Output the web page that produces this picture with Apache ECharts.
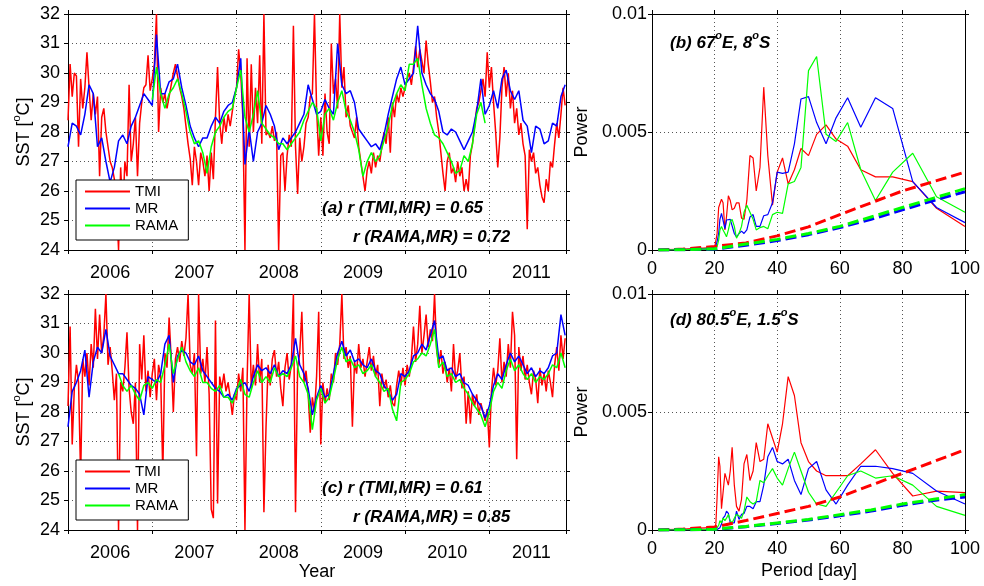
<!DOCTYPE html>
<html>
<head>
<meta charset="utf-8">
<script src="https://cdn.jsdelivr.net/npm/echarts@6/dist/echarts.min.js"></script>
<style>
  html, body { margin: 0; padding: 0; background: #fff; }
  #container { width: 984px; height: 586px; }
</style>
</head>
<body>
<div id="container"></div>
<script>
// SST series (°C), one row per year
var tmiA = [
  28.4, 30.3, 29.2, 30.0, 29.9, 27.5, 29.8, 28.8, 29.5, 30.7, 29.5, 28.4, 29.3, 28.6, 29.2, 26.5, 28.5, 28.8, 28.0, 27.5, 27.0, 26.8, 26.4, 25.6, 24.0, 26.8, 25.2, 27.0, 26.5, 29.6, 27.0, 27.6, 28.5, 26.5, 28.3, 29.0, 29.5, 29.6, 30.6, 29.4,
  29.8, 30.3, 32.0, 28.0, 29.5, 29.0, 29.3, 28.8, 29.2, 29.6, 30.0, 30.3, 29.9, 29.5, 29.2, 28.8, 28.2, 27.6, 27.1, 26.2, 27.5, 27.0, 26.2, 27.3, 27.0, 26.5, 27.2, 26.0, 27.3, 26.4, 28.5, 30.2, 28.3, 27.6, 28.5, 28.0, 28.6, 28.2, 28.7, 29.2,
  29.5, 30.8, 30.0, 28.5, 24.0, 30.5, 27.5, 30.3, 28.0, 29.5, 28.3, 30.6, 27.6, 32.0, 27.9, 28.0, 27.8, 28.2, 27.7, 28.0, 24.0, 27.2, 27.3, 26.0, 27.2, 27.9, 27.5, 31.6, 27.5, 25.9, 27.8, 27.0, 27.5, 28.3, 28.5, 29.2, 29.3, 32.0, 28.8, 27.2,
  28.5, 27.2, 29.3, 28.0, 27.6, 31.0, 29.3, 29.8, 28.8, 32.0, 29.5, 30.2, 28.5, 28.9, 28.2, 28.0, 27.8, 28.5, 27.5, 27.0, 26.5, 26.0, 26.7, 27.0, 26.6, 27.3, 26.8, 27.2, 27.0, 27.5, 28.0, 27.6, 28.5, 27.3, 29.0, 28.5, 29.3, 29.0, 29.5, 29.2,
  29.5, 29.8, 30.0, 29.6, 30.2, 30.9, 30.2, 30.8, 30.4, 30.0, 31.1, 30.3, 29.7, 29.0, 29.2, 28.5, 28.0, 27.3, 26.6, 26.0, 27.0, 27.3, 26.6, 26.8, 26.3, 27.0, 26.5, 26.8, 26.0, 26.4, 26.0, 27.2, 27.6, 28.2, 28.8, 29.0, 29.4, 29.8, 29.2, 30.7,
  29.5, 30.2, 29.0, 28.0, 26.8, 27.8, 29.5, 30.2, 29.2, 30.0, 28.8, 29.4, 28.3, 28.8, 27.9, 28.3, 27.6, 27.2, 24.7, 27.4, 27.0, 27.3, 26.6, 26.8, 26.2, 25.8, 25.6, 26.4, 26.0, 27.0, 26.8, 27.6, 28.3, 27.8, 28.6, 29.5, 28.9
];
var mrA = [
  27.5, 28.3, 28.2, 27.9, 28.6, 29.6, 29.3, 27.5, 27.8, 27.0, 26.3, 26.8, 27.7, 27.9, 27.6, 28.2, 28.5, 28.9, 29.3, 29.1,
  28.9, 31.3, 29.3, 29.3, 29.7, 29.8, 30.3, 29.5, 28.9, 28.2, 27.8, 27.5, 27.8, 27.8, 28.2, 28.5, 28.3, 28.7, 28.9, 29.0,
  29.5, 30.5, 26.9, 28.1, 27.0, 28.0, 28.3, 28.9, 28.6, 28.2, 27.4, 27.8, 27.6, 27.8, 28.0, 28.3, 28.6, 29.6, 29.1, 28.6,
  28.7, 29.1, 28.8, 28.6, 31.0, 29.6, 29.3, 29.4, 29.0, 28.1, 27.9, 27.7, 27.5, 27.6, 27.4, 27.9, 28.6, 29.2, 29.8, 30.2,
  29.6, 29.8, 30.0, 31.6, 30.0, 29.6, 29.3, 29.1, 28.7, 28.0, 27.9, 28.1, 28.0, 27.7, 27.4, 27.7, 28.0, 28.7, 29.8, 28.6,
  28.9, 29.4, 28.8, 29.8, 30.1, 29.4, 29.1, 29.4, 28.4, 28.2, 27.3, 28.2, 28.1, 27.6, 27.7, 28.3, 28.2, 29.2, 29.6
];
var ramaA = [
  29.1, 30.2, 29.3, 28.8, 29.3, 29.5, 29.8, 29.3, 28.7, 28.0, 27.6, 27.7, 27.3, 26.6, 27.5, 28.0, 28.2, 28.5, 28.7, 28.8,
  29.5, 30.1, 28.5, 28.0, 28.6, 29.4, 28.3, 28.1, 27.9, 27.8, 27.6, 27.6, 27.4, 27.6, 27.8, 28.0, 28.4, 28.7, 29.0, 28.8,
  27.7, 28.6, 28.8, 28.4, 29.0, 29.4, 28.7, 28.4, 28.0, 27.4, 26.5, 27.0, 27.3, 27.0, 27.2, 27.7, 28.2, 28.9, 29.3, 29.6,
  29.4, 30.3, 30.3, 30.5, 29.6, 28.8, 28.3, 27.9, 27.8, 27.6, 27.3, 27.0, 26.6, 26.7, 27.2, 27.0, 27.6, 28.6, 29.0, 28.3
];
var tmiC = [
  28.2, 30.9, 26.9, 28.8, 29.6, 29.0, 25.8, 29.8, 29.2, 30.0, 28.9, 30.3, 29.5, 31.5, 29.8, 31.3, 30.0, 30.6, 32.0, 29.6, 30.2, 29.4, 28.4, 29.3, 24.0, 29.0, 28.7, 29.5, 30.7, 28.8, 28.0, 27.6, 29.0, 24.0, 30.3, 29.1, 30.6, 28.7, 29.4, 28.5,
  29.3, 29.8, 28.4, 29.6, 29.2, 25.9, 30.0, 29.5, 31.2, 29.8, 28.0, 29.8, 30.2, 29.7, 30.4, 29.9, 30.5, 32.0, 29.6, 29.3, 30.0, 26.5, 32.0, 29.3, 29.8, 29.0, 30.2, 28.6, 24.7, 24.4, 31.1, 24.9, 29.2, 28.8, 29.3, 28.7, 29.0, 28.5, 27.9, 28.6,
  28.4, 29.3, 28.7, 29.5, 24.0, 29.0, 32.0, 28.8, 29.6, 28.9, 30.3, 29.0, 29.8, 24.6, 27.5, 29.6, 28.9, 29.8, 30.1, 29.2, 29.7, 28.8, 28.2, 29.5, 30.0, 29.1, 29.6, 32.0, 24.6, 29.5, 30.0, 31.4, 29.0, 29.4, 28.6, 27.3, 28.5, 28.0, 29.2, 31.4,
  26.9, 29.0, 28.3, 28.8, 28.4, 29.3, 29.0, 30.0, 29.6, 30.3, 32.0, 29.8, 30.2, 29.5, 29.9, 27.5, 29.7, 29.3, 30.3, 29.5, 29.8, 29.2, 29.7, 30.2, 29.4, 29.9, 29.2, 29.6, 28.2, 29.3, 28.8, 29.1, 28.5, 28.9, 28.3, 28.2, 28.9, 29.4, 28.9, 29.5,
  28.9, 29.6, 29.2, 29.8, 30.9, 29.7, 30.3, 31.6, 30.0, 30.6, 31.3, 30.2, 30.8, 30.4, 32.0, 30.1, 29.6, 30.1, 29.3, 29.7, 29.0, 29.5, 28.7, 30.3, 29.1, 29.4, 30.0, 28.8, 29.2, 27.6, 28.7, 27.6, 28.6, 28.2, 28.6, 27.9, 28.3, 28.0, 27.7, 28.1,
  26.8, 28.7, 29.5, 28.9, 29.4, 30.5, 29.0, 29.7, 29.2, 30.3, 29.5, 31.4, 30.6, 26.4, 30.2, 29.4, 29.9, 29.1, 29.6, 29.0, 28.6, 29.4, 29.1, 28.3, 29.5, 28.9, 29.3, 28.7, 29.4, 29.0, 28.5, 29.6, 30.2, 29.4, 30.6, 29.8, 30.5
];
var mrC = [
  27.5, 28.7, 29.0, 29.4, 30.1, 28.5, 29.7, 30.2, 30.0, 30.8, 29.9, 29.6, 29.3, 29.3, 29.1, 28.9, 28.8, 28.6, 27.9, 29.2,
  29.1, 29.0, 29.3, 30.3, 30.6, 29.0, 29.9, 30.1, 30.0, 29.7, 29.6, 29.9, 29.4, 29.2, 29.0, 28.8, 28.7, 28.5, 28.6, 28.4,
  28.8, 28.9, 29.0, 28.7, 29.2, 29.6, 29.4, 29.5, 29.3, 29.6, 29.2, 29.4, 29.3, 29.6, 30.5, 29.6, 29.3, 28.8, 27.9, 28.5,
  28.9, 28.5, 28.6, 29.3, 30.0, 30.4, 29.9, 30.1, 29.7, 29.8, 29.6, 29.5, 29.8, 29.4, 29.3, 28.9, 28.7, 28.4, 28.6, 29.3,
  29.2, 29.4, 29.9, 30.0, 30.3, 30.1, 30.6, 31.1, 29.8, 29.9, 29.4, 29.5, 29.2, 29.3, 29.0, 28.9, 28.6, 28.4, 28.2, 27.8,
  28.2, 28.9, 29.3, 29.1, 29.6, 30.0, 29.7, 29.9, 29.6, 29.3, 29.5, 29.2, 29.4, 29.3, 29.5, 29.9, 30.0, 31.3, 30.6
];
var ramaC = [
  29.3, 28.9, 28.7, 28.9, 28.6, 28.4, 28.9, 29.0,
  28.8, 29.1, 29.0, 29.6, 30.3, 29.3, 29.8, 30.2, 29.7, 29.4, 29.2, 29.5, 29.0, 29.0, 28.8, 28.7, 28.9, 28.5, 28.5, 28.3,
  28.7, 29.1, 28.6, 28.5, 29.0, 29.4, 29.0, 29.2, 29.0, 29.5, 29.2, 29.3, 29.2, 29.5, 29.9, 29.2, 29.0, 28.6, 27.4, 28.4,
  28.8, 28.3, 28.5, 29.1, 29.8, 30.2, 29.7, 29.8, 29.5, 29.6, 29.3, 29.4, 29.6, 29.2, 29.0, 28.7, 28.8, 28.1, 27.7, 29.0,
  29.1, 29.3, 29.7, 29.8, 30.0, 29.9, 30.3, 30.8, 29.5, 29.7, 29.2, 29.3, 29.0, 29.1, 28.8, 28.6, 28.3, 28.1, 27.9, 27.5,
  28.0, 28.7, 29.0, 28.8, 29.4, 29.8, 29.4, 29.6, 29.3, 29.1, 29.3, 29.0, 29.2, 29.1, 29.3, 29.6, 29.5, 30.0, 29.5
];

// spectra: periods (day) and power
var periods = [2, 5, 10, 15, 19, 20, 20.4, 20.8, 21.3, 21.7, 22.2, 22.7, 23.3, 23.8, 24.4, 25, 25.6, 26.3, 27, 27.8,
  28.6, 29.4, 30.3, 31.3, 32.3, 33.3, 34.5, 35.7, 37, 38.5, 40, 41.7, 43.5, 45.5, 47.6, 50, 52.6, 55.6, 58.8, 62.5,
  66.7, 71.4, 76.9, 83.3, 90.9, 100];
var tmiB = [0, 0.00002, 0.00004, 0.00007, 0.0001, 0.0001, 0.00015, 0.0007, 0.0018, 0.0018, 0.00215, 0.002, 0.00085, 0.0014, 0.0023, 0.0021, 0.0017, 0.00177, 0.002, 0.002,
  0.00135, 0.0013, 0.0021, 0.004, 0.0039, 0.0025, 0.0035, 0.0069, 0.004, 0.0019, 0.0033, 0.0039, 0.0028, 0.0034, 0.0043, 0.004, 0.0049, 0.0053, 0.0047, 0.0044,
  0.0034, 0.0031, 0.0031, 0.0029, 0.00177, 0.001];
var mrB = [0, 0, 0.00002, 0.00004, 0.00005, 0.00003, 0.00007, 0.00035, 0.0007, 0.0013, 0.00155, 0.0015, 0.0009, 0.00127, 0.0013, 0.0013, 0.0013, 0.0007, 0.00055, 0.0007,
  0.0008, 0.0007, 0.00085, 0.0014, 0.0015, 0.001, 0.001, 0.00145, 0.0015, 0.002, 0.0033, 0.00325, 0.0033, 0.0045, 0.0064, 0.0065, 0.0054, 0.0045, 0.0056, 0.00645,
  0.0052, 0.00645, 0.006, 0.0029, 0.0018, 0.00116];
var ramaB = [0, 0, 0.00002, 0.00004, 0.00005, 0.00002, 0.00003, 0.00014, 0.00042, 0.00085, 0.001, 0.00085, 0.0007, 0.00056, 0.00085, 0.0012, 0.0013, 0.001, 0.0005, 0.0007,
  0.001, 0.0016, 0.0019, 0.0016, 0.0013, 0.00085, 0.00095, 0.001, 0.0009, 0.0015, 0.0016, 0.00155, 0.0028, 0.0029, 0.0035, 0.0076, 0.0082, 0.0049, 0.0046, 0.0054,
  0.0034, 0.0021, 0.0033, 0.0041, 0.00226, 0.0016];
var tmiD = [0, 0.00002, 0.00004, 0.00008, 0.0001, 0.0001, 0.00024, 0.0014, 0.0031, 0.0027, 0.0009, 0.0009, 0.0024, 0.0024, 0.0019, 0.0025, 0.0035, 0.0019, 0.001, 0.0008,
  0.0013, 0.0028, 0.0032, 0.0021, 0.0025, 0.0037, 0.0029, 0.003, 0.0045, 0.0039, 0.0033, 0.0045, 0.0065, 0.0057, 0.0037, 0.0029, 0.0025, 0.0023, 0.0023, 0.0023,
  0.0028, 0.0034, 0.0024, 0.00144, 0.00165, 0.00158];
var mrD = [0, 0, 0.00001, 0.00002, 0.00003, 0.00002, 0.00005, 0.00002, 0.00003, 0.0001, 0.00025, 0.0005, 0.0006, 0.0008, 0.0007, 0.0003, 0.00025, 0.0003, 0.0008, 0.00045,
  0.00066, 0.0007, 0.001, 0.001, 0.0009, 0.0012, 0.0012, 0.0019, 0.0031, 0.0035, 0.0029, 0.0028, 0.003, 0.0021, 0.0015, 0.0026, 0.0029, 0.0017, 0.0011, 0.0019,
  0.0027, 0.0027, 0.0026, 0.0024, 0.00165, 0.0011];
var ramaD = [0, 0, 0.00001, 0.00002, 0.00003, 0.00002, 0.00005, 0.0001, 0.0002, 0.0004, 0.0003, 0.0005, 0.0004, 0.0005, 0.00066, 0.0004, 0.0003, 0.0005, 0.00066, 0.0006,
  0.0005, 0.0008, 0.0014, 0.0012, 0.0011, 0.0012, 0.0021, 0.002, 0.0023, 0.0026, 0.0022, 0.0019, 0.0026, 0.0033, 0.0025, 0.0016, 0.0011, 0.001, 0.0016, 0.0023,
  0.0025, 0.0022, 0.0023, 0.0019, 0.001, 0.00062];

// red-noise significance curves
var noisePeriods = [2, 10, 20, 30, 40, 50, 60, 70, 80, 90, 100];
var tmiNoiseB = [0, 0.00004, 0.00015, 0.0003, 0.0006, 0.00098, 0.0015, 0.002, 0.0025, 0.0029, 0.0033];
var mrNoiseB = [0, 0.00001, 0.00004, 0.0002, 0.0004, 0.00065, 0.00095, 0.0013, 0.0017, 0.0021, 0.00247];
var ramaNoiseB = [0, 0.00001, 0.00005, 0.00025, 0.00045, 0.0007, 0.001, 0.0014, 0.0018, 0.0022, 0.0026];
var tmiNoiseD = [0, 0.00004, 0.00013, 0.0004, 0.0007, 0.001, 0.0014, 0.0019, 0.0024, 0.0029, 0.0034];
var mrNoiseD = [0, 0.00001, 0.00003, 0.00014, 0.00028, 0.00042, 0.0006, 0.0008, 0.00105, 0.00125, 0.0014];
var ramaNoiseD = [0, 0.00001, 0.00003, 0.00015, 0.0003, 0.00045, 0.00065, 0.00085, 0.0011, 0.0013, 0.0015];

var FONT = '"Liberation Sans", Arial, Helvetica, sans-serif';
var RED = '#ff0000', BLUE = '#0000ff', GREEN = '#00ff00';
var T0 = 2006, T1 = 2011.91;

// evenly sampled series -> [year, value]
function timed(start, step, vals) {
  return vals.map(function (v, i) { return [Math.round((start + i * step) * 1000) / 1000, v]; });
}
function paired(xs, ys) {
  return ys.map(function (y, i) { return [xs[i], y]; });
}

var axLine = { onZero: false, lineStyle: { color: '#000', width: 1 } };
var tick = { show: true, length: 4, lineStyle: { color: '#000', width: 1 } };
var dots = { show: true, lineStyle: { color: '#555', type: [1, 3], width: 1 } };
var lbl = { color: '#000', fontSize: 18, fontFamily: FONT };

function timeX(g) {
  return [
    { gridIndex: g, type: 'value', min: T0, max: T1, interval: 1, position: 'bottom',
      axisLine: axLine, axisTick: tick, axisLabel: { show: false }, splitLine: dots },
    { gridIndex: g, type: 'value', min: T0, max: T1, interval: 0.5, position: 'bottom',
      axisLine: { show: false }, axisTick: { show: false }, splitLine: { show: false },
      axisLabel: Object.assign({ margin: 14, formatter: function (v) {
        return Math.abs(v - Math.floor(v) - 0.5) < 1e-6 ? String(Math.floor(v)) : '';
      } }, lbl) },
    { gridIndex: g, type: 'value', min: T0, max: T1, interval: 1, position: 'top',
      axisLine: axLine, axisTick: tick, axisLabel: { show: false }, splitLine: { show: false } }
  ];
}
function sstY(g) {
  return [
    { gridIndex: g, type: 'value', min: 24, max: 32, interval: 1, position: 'left',
      axisLine: axLine, axisTick: tick, axisLabel: Object.assign({ margin: 8 }, lbl), splitLine: dots },
    { gridIndex: g, type: 'value', min: 24, max: 32, interval: 1, position: 'right',
      axisLine: axLine, axisTick: tick, axisLabel: { show: false }, splitLine: { show: false } }
  ];
}
function periodX(g) {
  return [
    { gridIndex: g, type: 'value', min: 0, max: 100, interval: 20, position: 'bottom',
      axisLine: axLine, axisTick: tick, axisLabel: Object.assign({ margin: 10 }, lbl), splitLine: dots },
    { gridIndex: g, type: 'value', min: 0, max: 100, interval: 20, position: 'top',
      axisLine: axLine, axisTick: tick, axisLabel: { show: false }, splitLine: { show: false } }
  ];
}
function powerY(g) {
  return [
    { gridIndex: g, type: 'value', min: 0, max: 0.01, interval: 0.005, position: 'left',
      axisLine: axLine, axisTick: tick, axisLabel: Object.assign({ margin: 5 }, lbl), splitLine: dots },
    { gridIndex: g, type: 'value', min: 0, max: 0.01, interval: 0.005, position: 'right',
      axisLine: axLine, axisTick: tick, axisLabel: { show: false }, splitLine: { show: false } }
  ];
}

function line(name, data, color, xi, yi, width, dash) {
  return {
    name: name, type: 'line', xAxisIndex: xi, yAxisIndex: yi, data: data,
    showSymbol: false, symbol: 'none', silent: true,
    lineStyle: { color: color, width: width, type: dash || 'solid' },
    itemStyle: { color: color }
  };
}

function legendAt(top) {
  return {
    data: ['TMI', 'MR', 'RAMA'], orient: 'vertical', left: 76, top: top,
    icon: 'rect', itemWidth: 45, itemHeight: 2, itemGap: 2,
    padding: [4, 10, 7, 9], borderColor: '#000', borderWidth: 1, backgroundColor: '#fff',
    selectedMode: false,
    textStyle: { fontSize: 15, color: '#000', fontFamily: FONT, lineHeight: 15 }
  };
}

function supText(x, y, parts, size, bold, rot, align) {
  var rich = {
    n: { fontSize: size, fontFamily: FONT, fontStyle: bold ? 'italic' : 'normal', fontWeight: bold ? 'bold' : 'normal',
         color: '#000', lineHeight: size + 4, verticalAlign: 'bottom' },
    s: { fontSize: Math.round(size * 0.62), fontFamily: FONT, fontStyle: bold ? 'italic' : 'normal', fontWeight: bold ? 'bold' : 'normal',
         color: '#000', verticalAlign: 'top' }
  };
  var txt = parts.map(function (p, i) { return i % 2 ? '{s|' + p + '}' : '{n|' + p + '}'; }).join('');
  return {
    type: 'text', x: x, y: y, rotation: rot || 0, silent: true,
    style: { text: txt, rich: rich, align: align || 'left', verticalAlign: 'middle' }
  };
}
function plainText(x, y, text, size, bold, rot, align) {
  return {
    type: 'text', x: x, y: y, rotation: rot || 0, silent: true,
    style: { text: text, fill: '#000', align: align || 'left', verticalAlign: 'middle',
             font: (bold ? 'italic bold ' : '') + size + 'px ' + FONT }
  };
}

var myChart = echarts.init(document.getElementById('container'), null, { renderer: 'canvas' });
var option = {
  backgroundColor: '#fff',
  animation: false,
  grid: [
    { left: 68, top: 14, width: 498, height: 236, containLabel: false, outerBoundsMode: 'none' },
    { left: 652, top: 14, width: 313, height: 236, containLabel: false, outerBoundsMode: 'none' },
    { left: 68, top: 294, width: 498, height: 236, containLabel: false, outerBoundsMode: 'none' },
    { left: 652, top: 294, width: 313, height: 236, containLabel: false, outerBoundsMode: 'none' }
  ],
  // x: 0-2 panel a, 3-5 panel c, 6-7 panel b, 8-9 panel d
  xAxis: [].concat(timeX(0), timeX(2), periodX(1), periodX(3)),
  // y: 0-1 panel a, 2-3 panel c, 4-5 panel b, 6-7 panel d
  yAxis: [].concat(sstY(0), sstY(2), powerY(1), powerY(3)),
  legend: [legendAt(180), legendAt(460)],
  series: [
    line('TMI', timed(2006, 0.025, tmiA), RED, 0, 0, 1.5),
    line('MR', timed(2006, 0.05, mrA), BLUE, 0, 0, 1.5),
    line('RAMA', timed(2007, 0.05, ramaA), GREEN, 0, 0, 1.5),

    line('TMI', timed(2006, 0.025, tmiC), RED, 3, 2, 1.5),
    line('MR', timed(2006, 0.05, mrC), BLUE, 3, 2, 1.5),
    line('RAMA', timed(2006.6, 0.05, ramaC), GREEN, 3, 2, 1.5),

    line('TMI spectrum b', paired(periods, tmiB), RED, 6, 4, 1.2),
    line('MR spectrum b', paired(periods, mrB), BLUE, 6, 4, 1.2),
    line('RAMA spectrum b', paired(periods, ramaB), GREEN, 6, 4, 1.2),
    line('TMI noise b', paired(noisePeriods, tmiNoiseB), RED, 6, 4, 3, [11, 5]),
    line('MR noise b', paired(noisePeriods, mrNoiseB), BLUE, 6, 4, 3, [11, 5]),
    line('RAMA noise b', paired(noisePeriods, ramaNoiseB), GREEN, 6, 4, 3, [11, 5]),

    line('TMI spectrum d', paired(periods, tmiD), RED, 8, 6, 1.2),
    line('MR spectrum d', paired(periods, mrD), BLUE, 8, 6, 1.2),
    line('RAMA spectrum d', paired(periods, ramaD), GREEN, 8, 6, 1.2),
    line('TMI noise d', paired(noisePeriods, tmiNoiseD), RED, 8, 6, 3, [11, 5]),
    line('MR noise d', paired(noisePeriods, mrNoiseD), BLUE, 8, 6, 3, [11, 5]),
    line('RAMA noise d', paired(noisePeriods, ramaNoiseD), GREEN, 8, 6, 3, [11, 5])
  ],
  graphic: [
    supText(22, 132, ['SST [', 'o', 'C]'], 18, false, Math.PI / 2, 'center'),
    supText(22, 412, ['SST [', 'o', 'C]'], 18, false, Math.PI / 2, 'center'),
    plainText(582, 132, 'Power', 18, false, Math.PI / 2, 'center'),
    plainText(582, 412, 'Power', 18, false, Math.PI / 2, 'center'),
    plainText(317, 572, 'Year', 18, false, 0, 'center'),
    plainText(809, 571, 'Period [day]', 18, false, 0, 'center'),
    plainText(322, 208, '(a) r (TMI,MR) = 0.65', 17, true),
    plainText(353, 237, 'r (RAMA,MR) = 0.72', 17, true),
    plainText(322, 488, '(c) r (TMI,MR) = 0.61', 17, true),
    plainText(353, 517, 'r (RAMA,MR) = 0.85', 17, true),
    supText(670, 41, ['(b) 67', 'o', 'E, 8', 'o', 'S'], 17, true),
    supText(670, 318, ['(d) 80.5', 'o', 'E, 1.5', 'o', 'S'], 17, true)
  ]
};
myChart.setOption(option);
</script>
</body>
</html>
